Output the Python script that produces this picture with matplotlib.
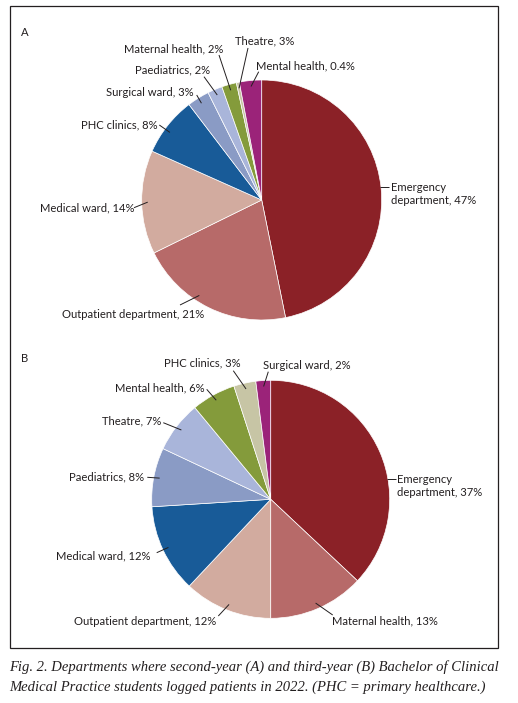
import matplotlib.pyplot as plt
import numpy as np
from matplotlib.patches import Rectangle

W, H = 518, 703                                     # figure size in pixels

# ---------------- data ----------------
# panel A (second-year). wedge sizes: the thin
# beige wedge carries the "Theatre, 3%" label, the magenta one "Mental health, 0.4%"
depts_a = ['Emergency\ndepartment', 'Outpatient department', 'Medical ward',
           'PHC clinics', 'Surgical ward', 'Paediatrics', 'Maternal health',
           'Theatre', 'Mental health']
pct_a = ['47%', '21%', '14%', '8%', '3%', '2%', '2%', '3%', '0.4%']
values_a = [47, 21, 14, 8, 3, 2, 2, 0.4, 3]

# panel B (third-year)
depts_b = ['Emergency\ndepartment', 'Maternal health', 'Outpatient department',
           'Medical ward', 'Paediatrics', 'Theatre', 'Mental health',
           'PHC clinics', 'Surgical ward']
pct_b = ['37%', '13%', '12%', '12%', '8%', '7%', '6%', '3%', '2%']
values_b = [37, 13, 12, 12, 8, 7, 6, 3, 2]

colors = ['#8b2127', '#b76a69', '#d2ab9f', '#185b98', '#8a9bc5',
          '#a9b5da', '#849b3b', '#c7c5a5', '#9b2379']
txt_col = '#231f20'

# ---------------- layout (pixels, y from top) ----------------
# text x, text y, ha, leader outer x, leader outer y, horizontal leader?, leader angle shift
lay_a = [(391, 194, 'left', 389, 186.7, True, 0),
         (204, 314, 'right', 180, 305, False, -7),
         (134, 207.7, 'right', 134, 207.7, False, 0),
         (158, 125, 'right', 159.3, 125, False, 2),
         (194, 92.7, 'right', 196.7, 95, False, 0),
         (210, 70, 'right', 204, 76.7, False, 0),
         (223, 49, 'right', 219, 55, False, 0),
         (235, 40.7, 'left', 248, 48, False, 0),
         (256, 65.7, 'left', 258.7, 71.7, False, 0)]
lay_b = [(397, 486, 'left', 396, 479, True, 0),
         (332, 620.7, 'left', 332.7, 615, False, 0),
         (216, 621.7, 'right', 218.3, 616, False, 0),
         (151, 555.7, 'right', 156.7, 552.7, False, 0),
         (144, 476.7, 'right', 147.3, 477.3, False, 0),
         (161, 420.7, 'right', 163.3, 422.7, False, 0),
         (205, 387.7, 'right', 206.7, 389.3, False, 0),
         (241, 362.7, 'right', 233.3, 370.7, False, 0),
         (263, 365.7, 'left', 268.3, 371.7, False, 0)]

plt.rcParams['font.family'] = ['Lato', 'DejaVu Sans']
fs = 8.1

fig = plt.figure(figsize=(W / 100, H / 100), dpi=100)
ax = fig.add_axes([0, 0, 1, 1])


def draw_panel(values, depts, pcts, lay, cx, cy, r, tag, tag_y):
    cyd = H - cy
    wedges, _ = ax.pie(values, colors=colors, startangle=90, counterclock=False,
                       center=(cx, cyd), radius=r,
                       wedgeprops=dict(edgecolor='white', linewidth=0.5))
    for w, d, p, (tx, ty, ha, ox, oy, horiz, shift) in zip(wedges, depts, pcts, lay):
        if horiz:                                   # straight line out to the text
            dy = (H - oy) - cyd
            ix, iy = cx + np.sqrt(r ** 2 - dy ** 2) - 1, H - oy
        else:                                       # leader into wedge middle
            mid = np.deg2rad((w.theta1 + w.theta2) / 2 + shift)
            ix, iy = cx + 0.95 * r * np.cos(mid), cyd + 0.95 * r * np.sin(mid)
        ax.plot([ix, ox], [iy, H - oy], color=txt_col, lw=0.7, solid_capstyle='butt')
        ax.text(tx, H - ty, d + ', ' + p, ha=ha, va='center', fontsize=fs,
                color=txt_col, linespacing=1.27)
    ax.text(21, H - tag_y, tag, ha='left', va='center', fontsize=fs,
            color=txt_col)


draw_panel(values_a, depts_a, pct_a, lay_a, 261.7, 200, 120, 'A', 33)
draw_panel(values_b, depts_b, pct_b, lay_b, 270.7, 499.3, 119, 'B', 358)

ax.add_patch(Rectangle((9.5, H - 648), 488.5, 642, fill=False,
                       edgecolor=txt_col, lw=0.9))

cap = ('Fig. 2. Departments where second-year (A) and third-year (B) Bachelor of Clinical\n'
       'Medical Practice students logged patients in 2022. (PHC = primary healthcare.)')
ax.text(9, H - 677, cap, ha='left', va='center', fontsize=10.55, color=txt_col,
        family='Liberation Serif', style='italic', linespacing=1.68)

ax.set_xlim(0, W)
ax.set_ylim(0, H)
ax.set_aspect('equal')
ax.axis('off')

fig.savefig('out.png', dpi=100, facecolor='white')
